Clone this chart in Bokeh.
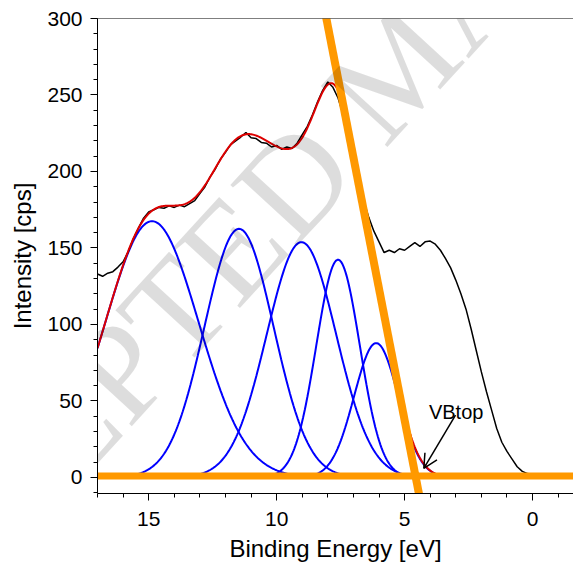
import numpy as np
from bokeh.plotting import figure
from bokeh.models import Range1d, SingleIntervalTicker, Label, Arrow, OpenHead, Span
from bokeh.embed import file_html
from bokeh.resources import INLINE

# Measured valence-band spectrum: binding energy [eV] and intensity [cps]
energy = [17.0, 16.8, 16.6, 16.4, 16.2, 16.0, 15.8, 15.6, 15.4, 15.2,
          15.0, 14.8, 14.6, 14.4, 14.2, 14.0, 13.8, 13.6, 13.4, 13.2,
          13.0, 12.8, 12.6, 12.4, 12.2, 12.0, 11.8, 11.6, 11.4, 11.2,
          11.0, 10.8, 10.6, 10.4, 10.2, 10.0, 9.8, 9.6, 9.4, 9.2,
          9.0, 8.8, 8.6, 8.4, 8.2, 8.0, 7.8, 7.6, 7.4, 7.2,
          7.0, 6.8, 6.6, 6.4, 6.2, 6.0, 5.8, 5.6, 5.4, 5.2,
          5.0, 4.8, 4.6, 4.4, 4.2, 4.0, 3.8, 3.6, 3.4, 3.2,
          3.0, 2.8, 2.6, 2.4, 2.2, 2.0, 1.8, 1.6, 1.4, 1.2,
          1.0, 0.8, 0.6, 0.4, 0.2, 0.0, -0.2, -0.4, -0.6, -0.8,
          -1.0, -1.2, -1.4, -1.6]
intensity = [133, 131.5, 133.5, 134.5, 137.5, 141, 147.5, 156, 163, 169.5,
             173.5, 175, 176.5, 176, 177.5, 176.5, 178, 177, 179, 181,
             185.5, 190, 196.5, 201.5, 208, 212.5, 217.5, 220, 222.5, 225.5,
             222, 221.5, 219, 218.5, 216, 217, 214.5, 216, 215, 218.5,
             224, 229.5, 237, 245.5, 253, 258.5, 255, 248, 237, 223,
             208, 194, 181, 170, 161, 154, 147, 148.5, 147, 149.5,
             148.5, 151, 153.5, 151, 154, 154.5, 152.5, 148.5, 143, 137,
             129, 120, 110, 97, 83, 69, 56, 44, 32, 23,
             17, 12, 7, 4, 2.5, 2, 1.5, 1.2, 1.5, 1.3,
             1.4, 1.2, 1.5, 1.3]

# Fitted Gaussian components (center [eV], height [cps], sigma [eV])
peak_centers = [14.87, 11.47, 9.03, 7.60, 6.11]
peak_heights = [167.5, 162.5, 153.8, 142.3, 87.8]
peak_sigmas = [1.82, 1.35, 1.36, 0.85, 0.86]
fit_range = [17.0, 3.3]

# Leading-edge line and background line
edge_energy = [8.29, 4.33]
edge_intensity = [320, -20]
base_energy = [18.0, -3.0]
base_intensity = [1.0, 1.0]

x_ticks_interval = 5
y_ticks_interval = 50

p = figure(width=573, height=565,
           x_range=Range1d(17, -1.6), y_range=Range1d(-10.5, 300),
           output_backend="svg", toolbar_location=None,
           min_border_left=97, min_border_right=0,
           min_border_top=18, min_border_bottom=72)
p.outline_line_color = None
p.xgrid.visible = False
p.ygrid.visible = False
p.background_fill_color = "white"
p.border_fill_color = "white"

grid = np.linspace(fit_range[0], fit_range[1], 400)
comps = [h * np.exp(-(grid - c) ** 2 / (2 * s ** 2))
         for c, h, s in zip(peak_centers, peak_heights, peak_sigmas)]
fit = np.sum(comps, axis=0)

for comp in comps:
    p.line(grid, comp, line_color="#0000ff", line_width=2)

p.line(energy, intensity, line_color="black", line_width=1.5)
p.line(grid, fit, line_color="#dd0000", line_width=2)

p.line(base_energy, base_intensity, line_color="#ff9900", line_width=7)
p.line(edge_energy, edge_intensity, line_color="#ff9900", line_width=8)

# faint diagonal watermark (translucent so the curves stay visible)
wm = Label(x=5.24, y=268.8, text="ACCEPTED MANUSCRIPT", angle=47.5, angle_units="deg",
           text_font="Liberation Serif", text_font_size="138px", text_color="black",
           text_alpha=0.135, text_align="center", text_baseline="middle")
p.add_layout(wm)

p.add_layout(Span(location=300, dimension="width", line_color="black", line_width=1))

p.add_layout(Arrow(end=OpenHead(size=14, line_width=1.5, line_color="black"),
                   x_start=3.01, y_start=40.7, x_end=4.25, y_end=5.9,
                   line_width=1.5, line_color="black"))
p.add_layout(Label(x=4.05, y=42.9, text="VBtop", text_font="Liberation Sans",
                   text_font_size="20px", text_color="black",
                   text_align="left", text_baseline="alphabetic"))

p.xaxis.ticker = SingleIntervalTicker(interval=x_ticks_interval, num_minor_ticks=5)
p.yaxis.ticker = SingleIntervalTicker(interval=y_ticks_interval, num_minor_ticks=5)
p.xaxis.axis_label = "Binding Energy [eV]"
p.yaxis.axis_label = "Intensity [cps]"

for ax in (p.xaxis, p.yaxis):
    ax.axis_line_color = "black"
    ax.axis_line_width = 1
    ax.major_tick_line_color = "black"
    ax.minor_tick_line_color = "black"
    ax.major_tick_in = 0
    ax.major_tick_out = 7
    ax.minor_tick_in = 0
    ax.minor_tick_out = 4
    ax.major_label_text_font = "Liberation Sans"
    ax.major_label_text_font_size = "21px"
    ax.major_label_text_color = "black"
    ax.axis_label_text_font = "Liberation Sans"
    ax.axis_label_text_font_size = "24px"
    ax.axis_label_text_font_style = "normal"
    ax.axis_label_text_color = "black"
p.xaxis.major_label_standoff = 11
p.yaxis.major_label_standoff = 8
p.xaxis.axis_label_standoff = 6
p.yaxis.axis_label_standoff = 8

open("out.html", "w").write(file_html(p, INLINE))
